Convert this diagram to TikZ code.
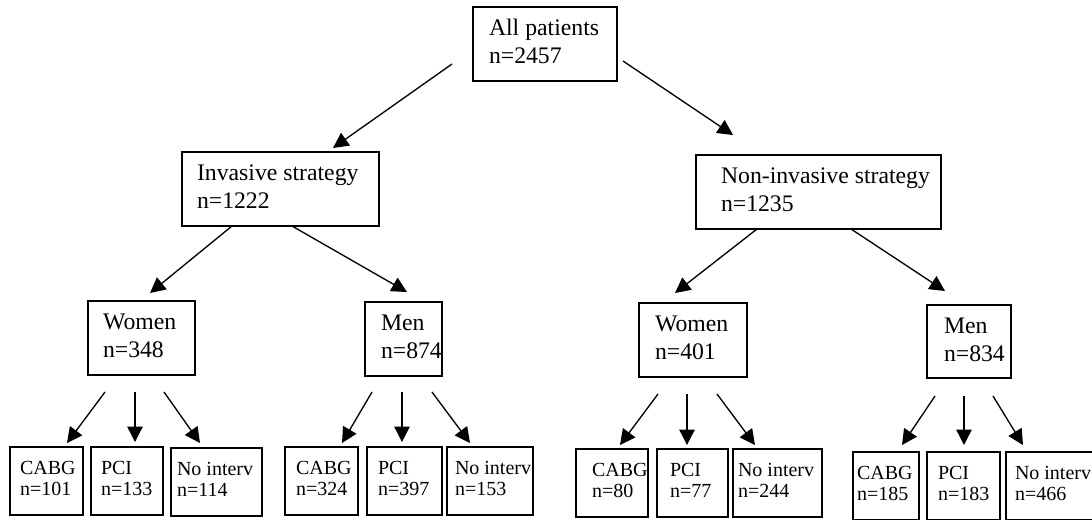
\documentclass[tikz,border=0pt]{standalone}
\usepackage{fontspec}
\setmainfont{Liberation Serif}
\usetikzlibrary{arrows.meta}
\newlength{\pxu}
\setlength{\pxu}{0.75pt}
% box text: width, left pad, line 1, line 2
\newcommand{\bt}[4]{\makebox[#1\pxu][l]{\hspace*{#2\pxu}\begin{tabular}{@{}l@{}}#3\\#4\end{tabular}}}
\tikzset{
  box/.style={draw, line width=1.1pt, inner sep=0pt, outer sep=0pt, anchor=north west},
  bigbox/.style={box, minimum height=74\pxu, font=\fontsize{17.8}{21}\selectfont},
  smallbox/.style={box, minimum height=68\pxu, font=\fontsize{15}{16}\selectfont},
  arr/.style={line width=1pt, -{Triangle[length=11.5pt,width=11.5pt]}}
}
\begin{document}
\begin{tikzpicture}[x=0.75pt,y=-0.75pt]
\useasboundingbox (0,0) rectangle (1092,519);
% level 0
\node[bigbox] (top) at (473,7) {\bt{144}{16}{All patients}{n=2457}};
% level 1
\node[bigbox] (inv) at (182,152) {\bt{197}{15}{Invasive strategy}{n=1222}};
\node[bigbox] (non) at (696,155) {\bt{245}{25}{Non-invasive strategy}{n=1235}};
% level 2
\node[bigbox] (iw) at (88,301) {\bt{107}{15}{Women}{n=348}};
\node[bigbox] (im) at (365,302) {\bt{77}{16}{Men}{n=874}};
\node[bigbox] (nw) at (639,303) {\bt{108}{16}{Women}{n=401}};
\node[bigbox, minimum height=73\pxu] (nm) at (927,305) {\bt{84}{17}{Men}{n=834}};
% level 3
\node[smallbox] (iwc) at (10,447) {\bt{73}{10}{CABG}{n=101}};
\node[smallbox] (iwp) at (91,447) {\bt{72}{10}{PCI}{n=133}};
\node[smallbox] (iwn) at (171,448) {\bt{91}{6}{No interv}{n=114}};
\node[smallbox] (imc) at (285,447) {\bt{73}{11}{CABG}{n=324}};
\node[smallbox] (imp) at (367,447) {\bt{75}{11}{PCI}{n=397}};
\node[smallbox] (imn) at (447,447) {\bt{86}{8}{No interv}{n=153}};
\node[smallbox] (nwc) at (576,449) {\bt{72}{16}{CABG}{n=80}};
\node[smallbox] (nwp) at (657,449) {\bt{71}{13}{PCI}{n=77}};
\node[smallbox] (nwn) at (733,449) {\bt{89}{5}{No interv}{n=244}};
\node[smallbox] (nmc) at (853,452) {\bt{66}{4}{CABG}{n=185}};
\node[smallbox] (nmp) at (927,452) {\bt{73}{11}{PCI}{n=183}};
\node[smallbox] (nmn) at (1006,452) {\bt{87}{9}{No interv}{n=466}};
% connectors level 0 -> 1
\draw[arr] ([shift={(-21,-17)}]top.south west) -- ([shift={(151,-4)}]inv.north west);
\draw[arr] ([shift={(6,-20)}]top.south east) -- ([shift={(37,-20)}]non.north west);
% level 1 -> 2
\draw[arr] ([shift={(50,0)}]inv.south west) -- ([shift={(62,-8)}]iw.north west);
\draw[arr] ([shift={(110,0)}]inv.south west) -- ([shift={(42,-10)}]im.north west);
\draw[arr] ([shift={(61,0)}]non.south west) -- ([shift={(36,-10)}]nw.north west);
\draw[arr] ([shift={(155,0)}]non.south west) -- ([shift={(18,-14)}]nm.north west);
% level 2 -> 3
\draw[arr] ([shift={(17,17)}]iw.south west) -- ([shift={(57,-4)}]iwc.north west);
\draw[arr] ([shift={(47,17)}]iw.south west) -- ([shift={(44,-5)}]iwp.north west);
\draw[arr] ([shift={(76,17)}]iw.south west) -- ([shift={(29,-5)}]iwn.north west);
\draw[arr] ([shift={(7,16)}]im.south west) -- ([shift={(57,-4)}]imc.north west);
\draw[arr] ([shift={(37,16)}]im.south west) -- ([shift={(35,-5)}]imp.north west);
\draw[arr] ([shift={(67,16)}]im.south west) -- ([shift={(23,-4)}]imn.north west);
\draw[arr] ([shift={(19,17)}]nw.south west) -- ([shift={(44,-4)}]nwc.north west);
\draw[arr] ([shift={(48,17)}]nw.south west) -- ([shift={(30,-4)}]nwp.north west);
\draw[arr] ([shift={(78,17)}]nw.south west) -- ([shift={(22,-4)}]nwn.north west);
\draw[arr] ([shift={(8,18)}]nm.south west) -- ([shift={(49,-7)}]nmc.north west);
\draw[arr] ([shift={(37,18)}]nm.south west) -- ([shift={(37,-7)}]nmp.north west);
\draw[arr] ([shift={(66,18)}]nm.south west) -- ([shift={(17,-7)}]nmn.north west);
\end{tikzpicture}
\end{document}
